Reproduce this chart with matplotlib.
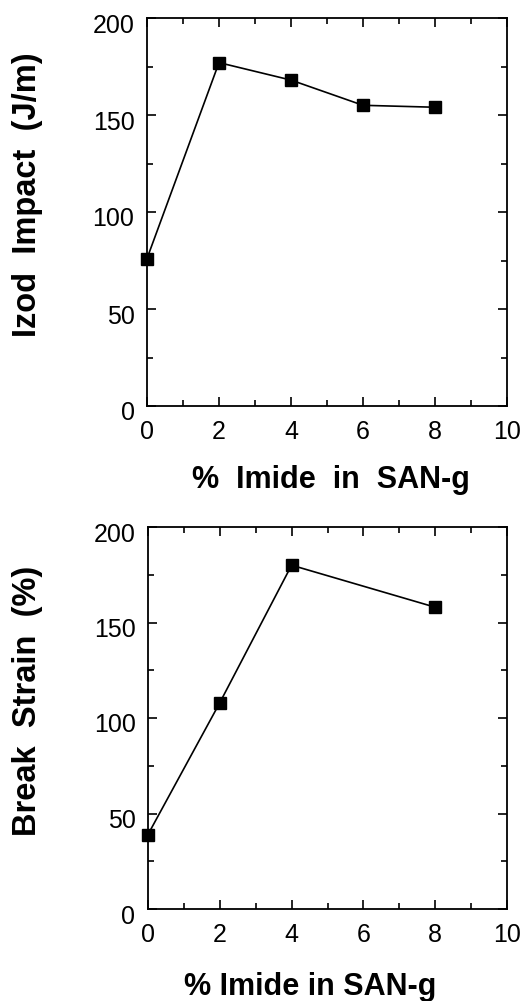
import matplotlib
matplotlib.use("Agg")
import matplotlib.pyplot as plt
from matplotlib.ticker import MultipleLocator
import matplotlib.transforms as mtransforms

x_izod = [0, 2, 4, 6, 8]
izod = [76, 177, 168, 155, 154]
x_strain = [0, 2, 4, 8]
strain = [39, 108, 180, 158]

xticks = [0, 2, 4, 6, 8, 10]
yticks = [0, 50, 100, 150, 200]

plt.rcParams['font.family'] = ['Liberation Sans', 'DejaVu Sans']

fig = plt.figure(figsize=(5.32, 10.01), dpi=100)
W, H = 532, 1001

def make_ax(left, top, right, bottom):
    return fig.add_axes([left / W, 1 - bottom / H, (right - left) / W, (bottom - top) / H])

ax1 = make_ax(147, 18, 507, 406)
ax2 = make_ax(148, 527, 507, 909)

def style(ax, x, y):
    ax.plot(x, y, color='black', lw=1.2, marker='s', markersize=8, clip_on=False, zorder=3)
    ax.set_xlim(0, 10)
    ax.set_ylim(0, 200)
    ax.set_xticks(xticks)
    ax.set_yticks(yticks)
    ax.xaxis.set_minor_locator(MultipleLocator(1))
    ax.yaxis.set_minor_locator(MultipleLocator(25))
    ax.tick_params(which='both', direction='in', top=True, right=True, width=1.2, labelsize=18)
    ax.tick_params(which='major', length=6.5)
    ax.tick_params(which='minor', length=4)
    ax.tick_params(axis='x', pad=10)
    ax.tick_params(axis='y', pad=9)
    for s in ax.spines.values():
        s.set_linewidth(1.3)
    off = mtransforms.ScaledTranslation(0, -5 / 100, fig.dpi_scale_trans)
    for lab in ax.get_yticklabels():
        lab.set_transform(lab.get_transform() + off)

style(ax1, x_izod, izod)
style(ax2, x_strain, strain)

fig.text(28 / W, 1 - 195 / H, 'Izod  Impact  (J/m)', fontsize=23.5, fontweight='bold',
         ha='center', va='center', rotation=90)
fig.text(28 / W, 1 - 701 / H, 'Break  Strain  (%)', fontsize=23.5, fontweight='bold',
         ha='center', va='center', rotation=90)
fig.text(331 / W, 1 - 480 / H, '%  Imide  in  SAN-g', fontsize=22, fontweight='bold',
         ha='center', va='center')
fig.text(310 / W, 1 - 987 / H, '% Imide in SAN-g', fontsize=22, fontweight='bold',
         ha='center', va='center')

fig.savefig('out.png', dpi=100)
